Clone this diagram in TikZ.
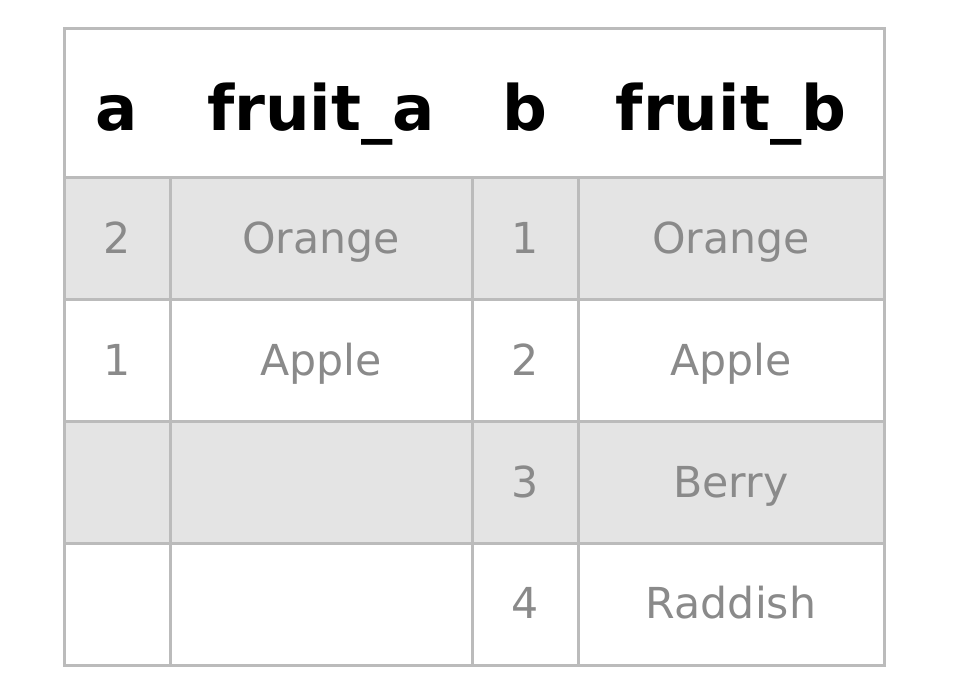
\documentclass[tikz,border=0pt]{standalone}
\usepackage{fontspec}
\setmainfont{DejaVu Sans}
\definecolor{gridc}{HTML}{BBBBBB}
\definecolor{rowfill}{HTML}{E4E4E4}
\definecolor{txt}{HTML}{8A8A8A}
\begin{document}
\begin{tikzpicture}[x=0.75pt,y=-0.75pt,
  hdr/.style={anchor=base,inner sep=0pt,font=\fontsize{47}{50}\selectfont\bfseries,text=black},
  cell/.style={anchor=base,inner sep=0pt,font=\fontsize{32}{36}\selectfont,text=txt},
  gridline/.style={draw=gridc,line width=2.25pt}]
\useasboundingbox (0,0) rectangle (960,682);
\fill[white] (0,0) rectangle (960,682);
% shaded rows
\fill[rowfill] (64,177) rectangle (884,299);
\fill[rowfill] (64,421) rectangle (884,543);
% grid
\draw[gridline] (64,28) rectangle (884,665);
\foreach \yy in {177,299,421,543} \draw[gridline] (64,\yy) -- (884,\yy);
\foreach \xx in {170,472,578} \draw[gridline] (\xx,177) -- (\xx,665);
% header
\node[hdr] (ha) at (117,130) {a};
\node[hdr] (hfa) at (321,130) {fruit\_a};
\node[hdr] (hb) at (525,130) {b};
\node[hdr] (hfb) at (731,130) {fruit\_b};
% row 1
\node[cell] (a1) at (117,253) {2};
\node[cell] (fa1) at (321,253) {Orange};
\node[cell] (b1) at (525,253) {1};
\node[cell] (fb1) at (731,253) {Orange};
% row 2
\node[cell] (a2) at (117,375) {1};
\node[cell] (fa2) at (321,375) {Apple};
\node[cell] (b2) at (525,375) {2};
\node[cell] (fb2) at (731,375) {Apple};
% row 3
\node[cell] (b3) at (525,497) {3};
\node[cell] (fb3) at (731,497) {Berry};
% row 4
\node[cell] (b4) at (525,618) {4};
\node[cell] (fb4) at (731,618) {Raddish};
\end{tikzpicture}
\end{document}
